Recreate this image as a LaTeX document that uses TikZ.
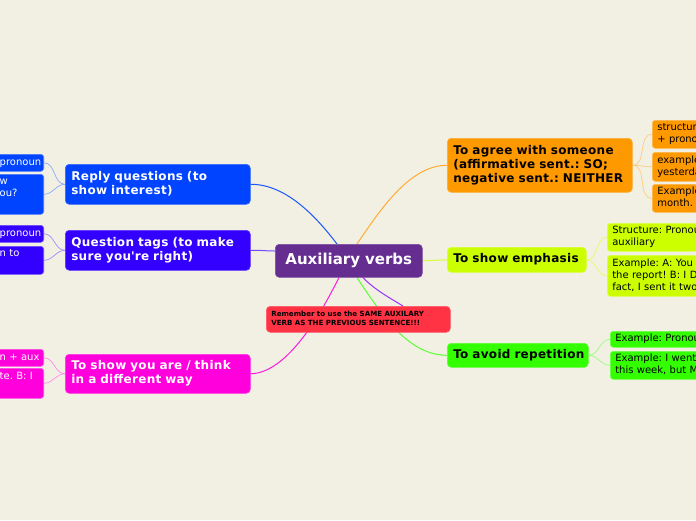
\documentclass[tikz,border=0pt]{standalone}
\usepackage{fontspec}
\setmainfont{DejaVu Sans}
\usetikzlibrary{calc}
\pgfdeclarelayer{bg}
\pgfdeclarelayer{edges}
\pgfsetlayers{bg,edges,main}
\definecolor{bgc}{HTML}{F2EFE3}
\definecolor{cpurple}{HTML}{662D91}
\definecolor{cred}{HTML}{FF3344}
\definecolor{corange}{HTML}{FF9900}
\definecolor{cemph}{HTML}{CCFF00}
\definecolor{crep}{HTML}{33FF00}
\definecolor{cblue}{HTML}{0044FF}
\definecolor{cviolet}{HTML}{3300FF}
\definecolor{cmag}{HTML}{FF00DD}
\definecolor{lpurple}{HTML}{9933FF}
\tikzset{
  mainbox/.style={rounded corners=4pt, align=left, inner xsep=6pt, inner ysep=2pt,
    anchor=north west, line width=0.6pt,
    font=\bfseries\fontsize{12}{14}\selectfont\addfontfeature{LetterSpace=2.5}},
  childbox/.style={rounded corners=3pt, align=left, inner xsep=5pt, inner ysep=2pt,
    anchor=north west, line width=0.6pt, font=\fontsize{10}{12}\selectfont},
  lchildbox/.style={rounded corners=3pt, align=left, inner xsep=3pt, inner ysep=2pt,
    anchor=north east, line width=0.6pt, text width=41pt, font=\fontsize{10}{12}\selectfont},
  conn/.style={line width=1pt},
  cconn/.style={line width=0.7pt},
}
\begin{document}
\frenchspacing
\hbadness=10000 \hfuzz=100pt
\begin{tikzpicture}[x=1pt,y=-1pt]
\useasboundingbox (0,0) rectangle (696,520);
\begin{pgfonlayer}{bg}
\fill[bgc] (0,0) rectangle (696,520);
\end{pgfonlayer}
\clip (0,0) rectangle (696,520);

% central
\node[mainbox, fill=cpurple, draw=cpurple!85!white, text=white, align=center,
  text width=135pt, minimum height=33pt, font=\bfseries\fontsize{15}{18}\selectfont]
  (c) at (275,244) {Auxiliary verbs};
\node[mainbox, fill=cred, draw=cred!80!white, text width=174pt, inner xsep=5pt,
  minimum height=26pt, font=\bfseries\fontsize{7.1}{9}\selectfont]
  (note) at (266,306) {\strut Remember to use the SAME AUXILARY\\\strut VERB AS THE PREVIOUS SENTENCE!!!};

% right main nodes
\node[mainbox, fill=corange, draw=corange!80!white, text width=173pt, minimum height=54pt]
  (agree) at (447,138) {\strut To agree with someone\\\strut(affirmative sent.: SO;\\\strut negative sent.: NEITHER};
\node[mainbox, fill=cemph, draw=cemph!80!white, text width=127pt, minimum height=25pt]
  (emph) at (447,247) {\strut\mbox{To show emphasis}};
\node[mainbox, fill=crep, draw=crep!80!white, text width=129pt, minimum height=24pt]
  (rep) at (447,343) {\strut\mbox{To avoid repetition}};

% left main nodes
\node[mainbox, fill=cblue, draw=cblue!80!white, text=white, text width=173pt, minimum height=40pt]
  (reply) at (65,164) {\strut Reply questions (to\\\strut show interest)};
\node[mainbox, fill=cviolet, draw=cviolet!80!white, text=white, text width=173pt, minimum height=40pt]
  (qt) at (65,230) {\strut Question tags (to make\\\strut sure you\textquotesingle re right)};
\node[mainbox, fill=cmag, draw=cmag!80!white, text=white, text width=173pt, minimum height=39pt]
  (think) at (65,354) {\strut To show you are / think\\\strut in a different way};

% right children
\node[childbox, fill=corange, draw=corange!70!white, text width=100pt, minimum height=28pt]
  (a1) at (652,120) {\strut structur\\\strut + prono};
\node[childbox, fill=corange, draw=corange!70!white, text width=100pt, minimum height=29pt]
  (a2) at (652,152) {\strut example\\\strut yesterda};
\node[childbox, fill=corange, draw=corange!70!white, text width=100pt, minimum height=28pt]
  (a3) at (652,184) {\strut Example\\\strut month.};
\node[childbox, fill=cemph, draw=cemph!70!white, text width=100pt, minimum height=28pt]
  (e1) at (607,223) {\strut Structure: Pronou\\\strut auxiliary};
\node[childbox, fill=cemph, draw=cemph!70!white, text width=100pt, minimum height=41pt]
  (e2) at (607,255) {\strut Example: A: You\\\strut the report! B: I D\\\strut fact, I sent it two};
\node[childbox, fill=crep, draw=crep!70!white, text width=100pt, minimum height=16pt]
  (r1) at (610,331) {\strut Example: Pronou};
\node[childbox, fill=crep, draw=crep!70!white, text width=100pt, minimum height=28pt]
  (r2) at (610,351) {\strut Example: I went\\\strut this week, but M};

% left children
\node[lchildbox, fill=cblue, draw=cblue!70!white, text=white, minimum height=17pt]
  (p1) at (44,154) {\strut pronoun};
\node[lchildbox, fill=cblue, draw=cblue!70!white, text=white, minimum height=40pt]
  (p2) at (44,174) {\strut w\\\strut ou?\\\strut};
\node[lchildbox, fill=cviolet, draw=cviolet!70!white, text=white, minimum height=17pt]
  (q1) at (44,225) {\strut pronoun};
\node[lchildbox, fill=cviolet, draw=cviolet!70!white, text=white, minimum height=28pt]
  (q2) at (44,246) {\strut n to\\\strut};
\node[lchildbox, fill=cmag, draw=cmag!70!white, text=white, minimum height=17pt]
  (t1) at (44,349) {\strut n + aux};
\node[lchildbox, fill=cmag, draw=cmag!70!white, text=white, minimum height=30pt]
  (t2) at (44,368) {\strut te. B: I\\\strut};

\begin{pgfonlayer}{edges}
\draw[conn, cblue!90!white] ($(c.north west)+(62,0)$) .. controls (315,215) and (285,184) .. (reply.east);
\draw[conn, corange!80!white] ($(c.north west)+(82,0)$) .. controls (380,210) and (410,165) .. (agree.west);
\draw[conn, cviolet!70!white] ($(c.north west)+(0,7)$) .. controls (265,251) and (260,250) .. (qt.east);
\draw[conn, cmag!90!white] ($(c.south west)+(64,0)$) .. controls (325,305) and (290,373) .. (think.east);
\draw[conn, crep!80!white] ($(c.south west)+(82,0)$) .. controls (385,320) and (410,355) .. (rep.west);
\draw[conn, lpurple] ($(c.south west)+(88,0)$) .. controls (375,290) and (390,298) .. ($(note.north west)+(137,0)$);
\draw[conn, cemph!80!white] (c.east) -- (emph.west);

\draw[cconn, corange!50!white] (agree.east) to[out=0,in=180] (a1.west);
\draw[cconn, corange!50!white] (agree.east) to[out=0,in=180] (a2.west);
\draw[cconn, corange!50!white] (agree.east) to[out=0,in=180] (a3.west);
\draw[cconn, cemph!60!white] (emph.east) to[out=0,in=180] (e1.west);
\draw[cconn, cemph!60!white] (emph.east) to[out=0,in=180] (e2.west);
\draw[cconn, crep!50!white] (rep.east) to[out=0,in=180] (r1.west);
\draw[cconn, crep!50!white] (rep.east) to[out=0,in=180] (r2.west);
\draw[cconn, cblue!45!white] (reply.west) to[out=180,in=0] (p1.east);
\draw[cconn, cblue!45!white] (reply.west) to[out=180,in=0] (p2.east);
\draw[cconn, cviolet!45!white] (qt.west) to[out=180,in=0] (q1.east);
\draw[cconn, cviolet!45!white] (qt.west) to[out=180,in=0] (q2.east);
\draw[cconn, cmag!45!white] (think.west) to[out=180,in=0] (t1.east);
\draw[cconn, cmag!45!white] (think.west) to[out=180,in=0] (t2.east);
\end{pgfonlayer}
\end{tikzpicture}
\end{document}
